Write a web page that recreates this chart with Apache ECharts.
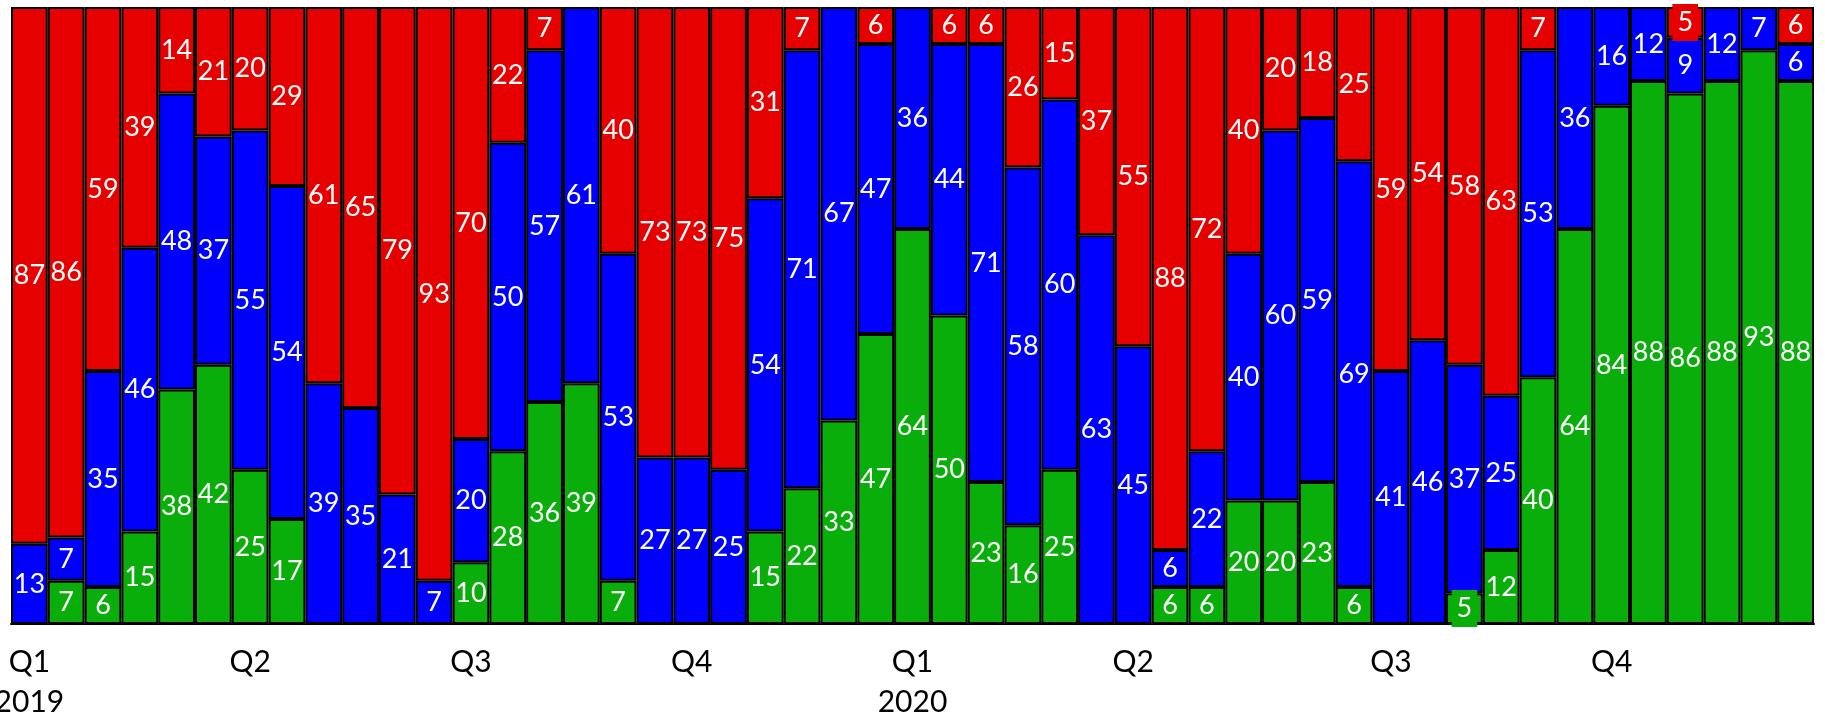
<!DOCTYPE html>
<html><head><meta charset="utf-8">
<script src="https://cdn.jsdelivr.net/npm/echarts@6/dist/echarts.min.js"></script>
<style>html,body{margin:0;padding:0;background:#fff}#c{width:1825px;height:718px}</style>
</head><body><div id="c"></div>
<script>
const periods = Array.from({length:49}, (_, i) => 'P' + (i + 1));
const tickIndex = [0, 6, 12, 18, 24, 30, 37, 43];
const tickText = ['Q1\n2019', 'Q2', 'Q3', 'Q4', 'Q1\n2020', 'Q2', 'Q3', 'Q4'];
const greenVals = [0,7,6,15,38,42,25,17,0,0,0,0,10,28,36,39,7,0,0,0,15,22,33,47,64,50,23,16,25,0,0,6,6,20,20,23,6,0,0,5,12,40,64,84,88,86,88,93,88];
const blueVals  = [13,7,35,46,48,37,55,54,39,35,21,7,20,50,57,61,53,27,27,25,54,71,67,47,36,44,71,58,60,63,45,6,22,40,60,59,69,41,46,37,25,53,36,16,12,9,12,7,6];
const redVals   = [87,86,59,39,14,21,20,29,61,65,79,93,70,22,7,0,40,73,73,75,31,7,0,6,0,6,6,26,15,37,55,88,72,40,20,18,25,59,54,58,63,7,0,0,0,5,0,0,6];

const FONT = 'Lato';
function mk(name, vals, color) {
  return {
    name, type: 'bar', stack: 'all', barCategoryGap: 0,
    itemStyle: { color, borderColor: '#000', borderWidth: 2 },
    label: {
      show: true, position: 'inside', color: '#fff', fontSize: 27, fontFamily: FONT,
      formatter: p => p.value ? String(p.value) : ''
    },
    data: vals.map(v => {
      if (!v) return null;
      if (v <= 5) return { value: v, label: { backgroundColor: color, padding: [5, 5] } };
      return v;
    })
  };
}
const chart = echarts.init(document.getElementById('c'), null, { renderer: 'canvas' });
chart.setOption({
  animation: false,
  grid: { left: 11, right: 11, top: 7, bottom: 94, containLabel: false, outerBoundsMode: 'none' },
  xAxis: {
    type: 'category', data: periods,
    axisTick: { show: false },
    axisLine: { show: true, lineStyle: { color: '#000', width: 2 } },
    axisLabel: {
      interval: 0, margin: 18, color: '#000', fontSize: 30, lineHeight: 40, fontFamily: FONT,
      formatter: (v, i) => { const k = tickIndex.indexOf(i); return k >= 0 ? tickText[k] : ''; }
    }
  },
  yAxis: { type: 'value', min: 0, max: 100, show: false, splitLine: { show: false } },
  series: [
    mk('green', greenVals, '#0AAE0A'),
    mk('blue', blueVals, '#0000FF'),
    mk('red', redVals, '#E60000')
  ]
});
</script></body></html>
